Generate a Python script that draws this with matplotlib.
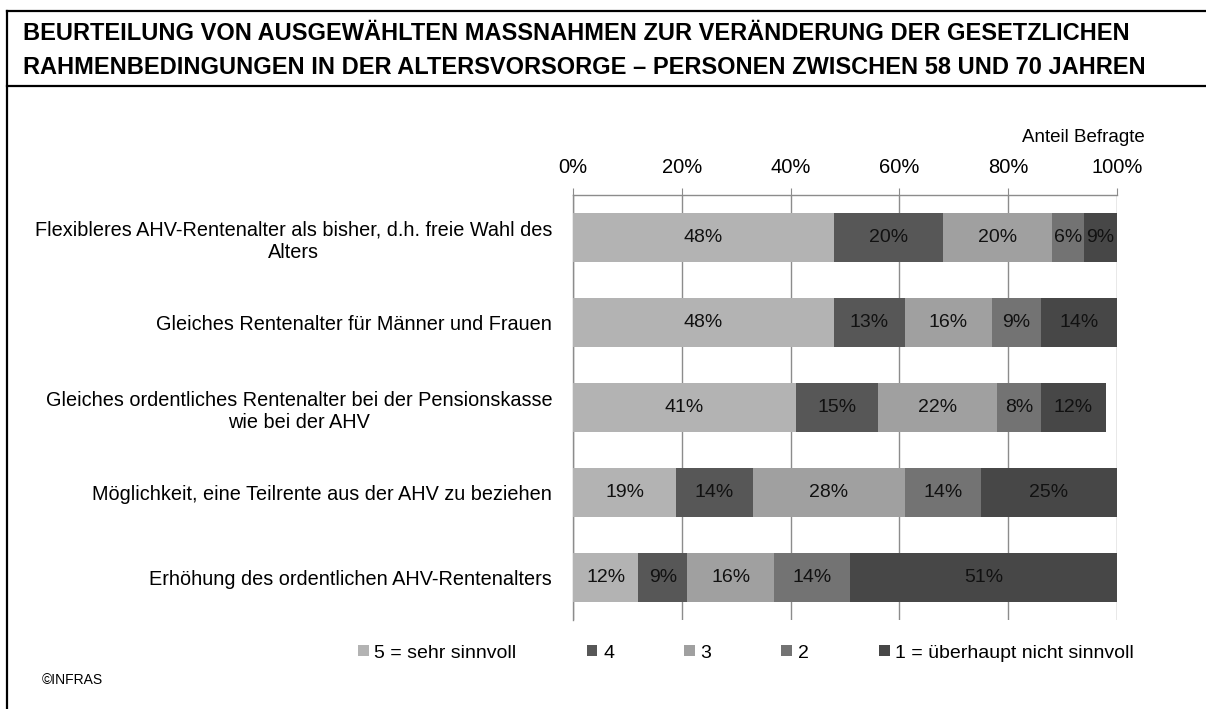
import numpy as np
import matplotlib.pyplot as plt
from matplotlib.lines import Line2D
from matplotlib.ticker import PercentFormatter

plt.rcParams['font.family'] = ['Liberation Sans', 'DejaVu Sans']

title1 = "BEURTEILUNG VON AUSGEWÄHLTEN MASSNAHMEN ZUR VERÄNDERUNG DER GESETZLICHEN"
title2 = "RAHMENBEDINGUNGEN IN DER ALTERSVORSORGE – PERSONEN ZWISCHEN 58 UND 70 JAHREN"

massnahmen = ["Flexibleres AHV-Rentenalter als bisher, d.h. freie Wahl des\nAlters",
              "Gleiches Rentenalter für Männer und Frauen",
              "Gleiches ordentliches Rentenalter bei der Pensionskasse\nwie bei der AHV",
              "Möglichkeit, eine Teilrente aus der AHV zu beziehen",
              "Erhöhung des ordentlichen AHV-Rentenalters"]

stufen = ["5 = sehr sinnvoll", "4", "3", "2", "1 = überhaupt nicht sinnvoll"]

# Anteile in %, pro Massnahme (Reihenfolge wie oben)
sehr_sinnvoll = [48, 48, 41, 19, 12]
stufe4 = [20, 13, 15, 14, 9]
stufe3 = [20, 16, 22, 28, 16]
stufe2 = [6, 9, 8, 14, 14]
nicht_sinnvoll = [9, 14, 12, 25, 51]

farben = ['#b3b3b3', '#575757', '#a0a0a0', '#737373', '#474747']

werte = [sehr_sinnvoll, stufe4, stufe3, stufe2, nicht_sinnvoll]

fig = plt.figure(figsize=(12.06, 7.09), dpi=100)
ax = fig.add_axes([573/1206, 1-620/709, 544/1206, 425/709])

y = np.arange(len(massnahmen))
links = np.zeros(len(massnahmen))
for serie, farbe, name in zip(werte, farben, stufen):
    bars = ax.barh(y, serie, left=links, height=0.57, color=farbe, label=name, zorder=3)
    ax.bar_label(bars, labels=[str(v) + "%" for v in serie], label_type='center',
                 fontsize=14, color='#111111', zorder=4)
    links += np.array(serie)

ax.set_xlim(0, 100)
ax.set_ylim(len(massnahmen) - 0.5, -0.5)
ax.set_xticks(np.arange(0, 101, 20))
ax.xaxis.set_major_formatter(PercentFormatter(xmax=100, decimals=0))
ax.xaxis.tick_top()
ax.tick_params(axis='x', direction='out', length=5, color='#8c8c8c', labelsize=14.5, pad=8)
ax.set_yticks(y)
ax.set_yticklabels(massnahmen, fontsize=14.3, multialignment='center')
ax.tick_params(axis='y', length=0, pad=15)
ax.grid(axis='x', color='#8c8c8c', linewidth=1, zorder=0)
for s in ['right', 'bottom']:
    ax.spines[s].set_visible(False)
for s in ['top', 'left']:
    ax.spines[s].set_color('#8c8c8c')
    ax.spines[s].set_linewidth(1)

fig.text(1145/1206, 1-137/709, "Anteil Befragte", ha='right', va='center', fontsize=13.5)

# Titel und Rahmen
fig.text(23/1206, 1-34/709, title1, ha='left', va='center', fontsize=17, fontweight='bold')
fig.text(23/1206, 1-68/709, title2, ha='left', va='center', fontsize=17, fontweight='bold')
for yy in [11, 86]:
    fig.add_artist(Line2D([7/1206, 1], [1-yy/709, 1-yy/709], color='black', lw=1.6))
fig.add_artist(Line2D([7/1206, 7/1206], [0, 1-11/709], color='black', lw=1.6))

# Legende unter dem Diagramm
fig.legend(loc='center', bbox_to_anchor=(746/1206, 1-653/709), ncol=5, frameon=False,
           fontsize=14, handlelength=0.55, handleheight=0.55, handletextpad=0.3,
           columnspacing=3.6, borderpad=0, borderaxespad=0)

fig.text(42/1206, 1-680/709, "©INFRAS", ha='left', va='center', fontsize=10)

plt.savefig('out.png', dpi=100)
